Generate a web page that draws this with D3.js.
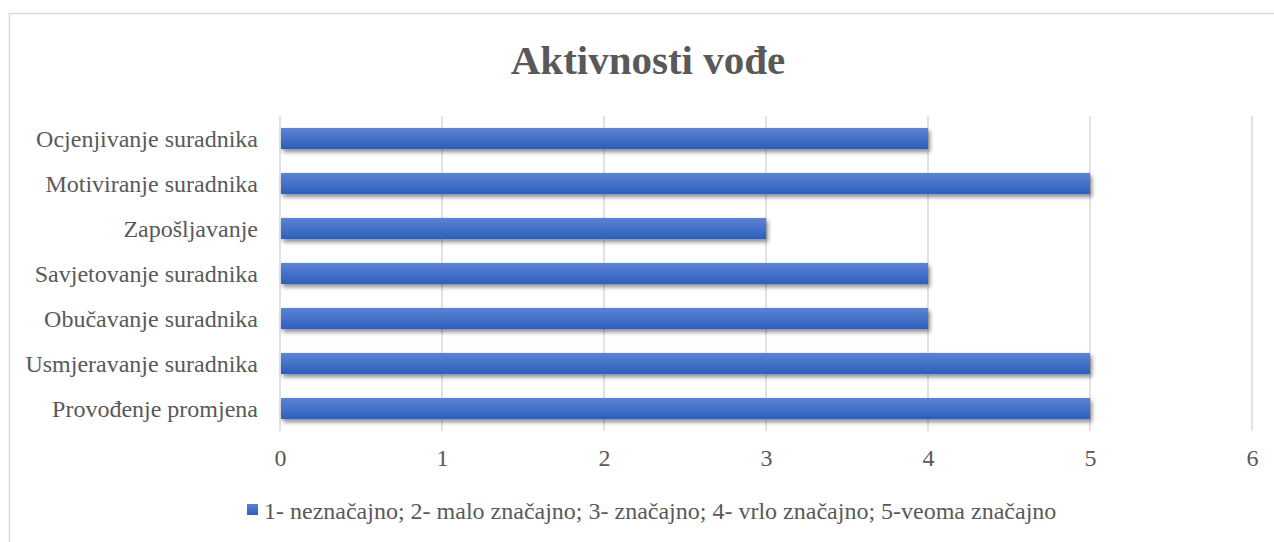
<!DOCTYPE html>
<html>
<head>
<meta charset="utf-8">
<script src="https://cdn.jsdelivr.net/npm/d3@7"></script>
<style>
  body { margin: 0; background: #fff; }
  svg { display: block; font-family: "Liberation Serif", "Times New Roman", serif; }
</style>
</head>
<body>
<div id="chart"></div>
<script>
// data
var categories = ["Ocjenjivanje suradnika", "Motiviranje suradnika", "Zapošljavanje",
  "Savjetovanje suradnika", "Obučavanje suradnika", "Usmjeravanje suradnika", "Provođenje promjena"];
var values = [4, 5, 3, 4, 4, 5, 5];
var xTicks = [0, 1, 2, 3, 4, 5, 6];
var chartTitle = "Aktivnosti vođe";
var legendLabel = "1- neznačajno; 2- malo značajno; 3- značajno; 4- vrlo značajno; 5-veoma značajno";

var width = 1274, height = 542;
var plotLeft = 280, plotRight = 1252, plotTop = 116, plotBottom = 431;
var textColor = "#595959";

var svg = d3.select("#chart").append("svg")
  .attr("width", width)
  .attr("height", height);

var defs = svg.append("defs");
var grad = defs.append("linearGradient")
  .attr("id", "barGrad")
  .attr("x1", 0).attr("y1", 0).attr("x2", 0).attr("y2", 1);
grad.append("stop").attr("offset", "0%").attr("stop-color", "#5c84d3");
grad.append("stop").attr("offset", "100%").attr("stop-color", "#2d5ebd");

var shadow = defs.append("filter")
  .attr("id", "barShadow")
  .attr("x", "-5%").attr("y", "-50%").attr("width", "110%").attr("height", "220%");
shadow.append("feDropShadow")
  .attr("dx", 2).attr("dy", 3).attr("stdDeviation", 2.2)
  .attr("flood-color", "#000").attr("flood-opacity", 0.45);

// chart border
svg.append("rect")
  .attr("x", 9.5).attr("y", 13.5)
  .attr("width", width + 10).attr("height", height + 10)
  .attr("fill", "none")
  .attr("stroke", "#d9d9d9")
  .attr("stroke-width", 1.5);

var x = d3.scaleLinear().domain([0, 6]).range([plotLeft, plotRight]);
var y = d3.scaleBand().domain(categories).range([plotTop, plotBottom]).paddingInner(0.53).paddingOuter(0.265);

// gridlines
svg.append("g")
  .selectAll("line")
  .data(xTicks)
  .join("line")
  .attr("x1", d => x(d)).attr("x2", d => x(d))
  .attr("y1", plotTop).attr("y2", plotBottom)
  .attr("stroke", "#d9d9d9")
  .attr("stroke-width", 1.5);

// bars
svg.append("g")
  .selectAll("rect")
  .data(categories)
  .join("rect")
  .attr("x", x(0) + 1)
  .attr("y", d => y(d))
  .attr("width", (d, i) => x(values[i]) - x(0) - 1)
  .attr("height", y.bandwidth())
  .attr("fill", "url(#barGrad)")
  .attr("filter", "url(#barShadow)");

// category labels
svg.append("g")
  .selectAll("text")
  .data(categories)
  .join("text")
  .attr("x", 258)
  .attr("y", d => y(d) + y.bandwidth() / 2)
  .attr("dy", "0.35em")
  .attr("text-anchor", "end")
  .attr("font-size", 24)
  .attr("fill", textColor)
  .text(d => d);

// x axis labels
var xAxis = svg.append("g")
  .attr("transform", "translate(0," + plotBottom + ")")
  .call(d3.axisBottom(x).tickValues(xTicks).tickFormat(d3.format("d")).tickSize(0).tickPadding(18));
xAxis.select(".domain").remove();
xAxis.attr("font-family", null).attr("font-size", null);
xAxis.selectAll("text")
  .attr("font-size", 24)
  .attr("fill", textColor);

// title
svg.append("text")
  .attr("x", 648).attr("y", 74)
  .attr("text-anchor", "middle")
  .attr("font-size", 41)
  .attr("font-weight", "bold")
  .attr("fill", textColor)
  .text(chartTitle);

// legend
svg.append("rect")
  .attr("x", 247).attr("y", 504)
  .attr("width", 11).attr("height", 11)
  .attr("fill", "url(#barGrad)");
svg.append("text")
  .attr("x", 264).attr("y", 519)
  .attr("font-size", 24)
  .attr("fill", textColor)
  .text(legendLabel);
</script>
</body>
</html>
